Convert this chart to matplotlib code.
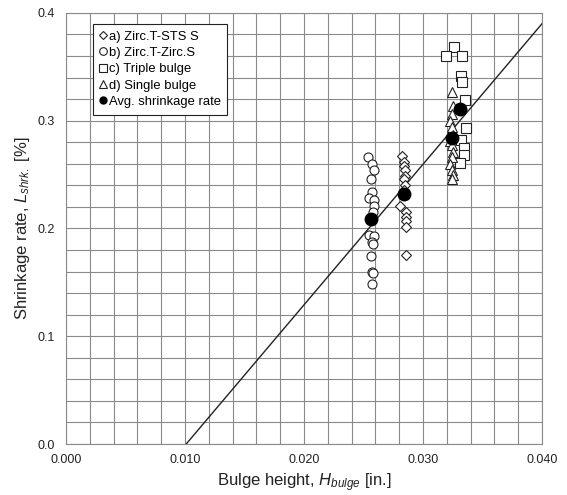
import matplotlib
matplotlib.use("Agg")
import matplotlib.pyplot as plt
from matplotlib.ticker import MultipleLocator

plt.rcParams["font.family"] = ["Liberation Sans", "DejaVu Sans"]
plt.rcParams["mathtext.fontset"] = "custom"
plt.rcParams["mathtext.rm"] = "Liberation Sans"
plt.rcParams["mathtext.it"] = "Liberation Sans:italic"

# a) Zirc.T-STS S  (diamonds)
a_x = [0.0282, 0.0284, 0.0284, 0.0285, 0.0285, 0.0284, 0.0285, 0.0284,
       0.0281, 0.0286, 0.0286, 0.0286, 0.0286, 0.0286]
a_y = [0.267, 0.262, 0.258, 0.254, 0.249, 0.246, 0.240, 0.236,
       0.221, 0.215, 0.211, 0.207, 0.201, 0.175]

# b) Zirc.T-Zirc.S  (circles)
b_x = [0.0254, 0.0257, 0.0259, 0.0256, 0.0257, 0.0255, 0.0259, 0.0259,
       0.0258, 0.0255, 0.0259, 0.0257, 0.0258, 0.0256, 0.0257, 0.0258, 0.0257]
b_y = [0.266, 0.260, 0.254, 0.246, 0.234, 0.228, 0.226, 0.221,
       0.215, 0.194, 0.193, 0.187, 0.186, 0.174, 0.160, 0.159, 0.148]

# c) Triple bulge  (squares)
c_x = [0.0326, 0.0319, 0.0333, 0.0332, 0.0333, 0.0335, 0.0336, 0.0332,
       0.0334, 0.0334, 0.0331]
c_y = [0.368, 0.360, 0.360, 0.341, 0.336, 0.319, 0.293, 0.282,
       0.275, 0.268, 0.261]

# d) Single bulge  (triangles)
d_x = [0.0324, 0.0325, 0.0324, 0.0323, 0.0324, 0.0325, 0.0323, 0.0324,
       0.0325, 0.0324, 0.0323, 0.0324, 0.0325, 0.0324]
d_y = [0.327, 0.314, 0.306, 0.300, 0.294, 0.287, 0.281, 0.277,
       0.271, 0.266, 0.260, 0.254, 0.250, 0.246]

# average shrinkage rate per group
avg_x = [0.0256, 0.0284, 0.0331, 0.0324]
avg_y = [0.209, 0.232, 0.311, 0.284]

# trend line
fit_x = [0.0101, 0.040]
fit_y = [0.0, 0.390]

fig = plt.figure(figsize=(5.67, 4.95), dpi=100)
ax = fig.add_axes([0.1164, 0.103, 0.8396, 0.871])

ax.plot(fit_x, fit_y, color="#222222", linewidth=1.0, zorder=3)

mk = dict(linestyle="none", markerfacecolor="white", markeredgecolor="#222222",
          markeredgewidth=0.8, zorder=4)
ax.plot(a_x, a_y, marker="D", markersize=5, label="a) Zirc.T-STS S", **mk)
ax.plot(b_x, b_y, marker="o", markersize=6.5, label="b) Zirc.T-Zirc.S", **mk)
ax.plot(c_x, c_y, marker="s", markersize=7, label="c) Triple bulge", **mk)
ax.plot(d_x, d_y, marker="^", markersize=6.5, label="d) Single bulge", **mk)
ax.plot(avg_x, avg_y, marker="o", markersize=9, linestyle="none", color="black",
        label="Avg. shrinkage rate", zorder=5)

ax.set_xlim(0, 0.040)
ax.set_ylim(0, 0.4)
ax.xaxis.set_major_locator(MultipleLocator(0.010))
ax.xaxis.set_minor_locator(MultipleLocator(0.002))
ax.yaxis.set_major_locator(MultipleLocator(0.1))
ax.yaxis.set_minor_locator(MultipleLocator(0.02))
ax.xaxis.set_major_formatter(lambda v, p: f"{v:.3f}")
ax.yaxis.set_major_formatter(lambda v, p: f"{v:.1f}")
ax.grid(True, which="both", color="#8a8a8a", linewidth=0.8)
ax.set_axisbelow(True)
ax.tick_params(which="both", length=0, labelsize=9, colors="#222222")
ax.tick_params(axis="x", pad=7)
ax.tick_params(axis="y", pad=8)
for s in ax.spines.values():
    s.set_color("#8a8a8a")
    s.set_linewidth(0.8)

ax.set_xlabel("Bulge height, $H_{bulge}$ [in.]", fontsize=12, color="#222222", labelpad=4)
ax.set_ylabel("Shrinkage rate, $L_{shrk.}$ [%]", fontsize=12, color="#222222", labelpad=4)

leg = ax.legend(loc="upper left", bbox_to_anchor=(0.057, 0.974), borderaxespad=0,
                fontsize=9.4, handlelength=0.5, handletextpad=0.2, labelspacing=0.32,
                fancybox=False, framealpha=1, edgecolor="#222222", borderpad=0.5)
leg.get_frame().set_linewidth(0.8)
# small legend symbols, as in the reference
for h, size in zip(leg.legend_handles, [4, 5.5, 5.5, 5.5, 5]):
    h.set_markersize(size)

fig.savefig("out.png", dpi=100)
